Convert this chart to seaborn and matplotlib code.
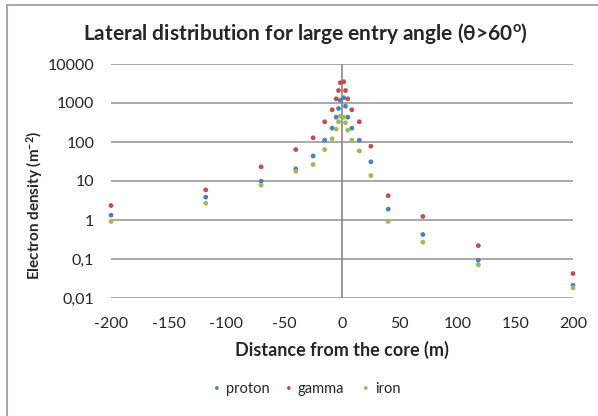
import seaborn as sns
import pandas as pd
import matplotlib.pyplot as plt
from matplotlib.patches import Rectangle

# distances from the core (m)
distance = [-200, -118, -70, -40, -25, -15, -8.5, -5, -3, -1.5,
            1.5, 3, 5, 8.5, 15, 25, 40, 70, 118, 200]

# electron densities (m^-2)
proton = [1.33, 3.85, 9.9, 20.5, 44, 111, 226, 432, 723, 1180,
          1360, 828, 432, 226, 111, 31, 1.9, 0.425, 0.093, 0.0213]
gamma = [2.35, 5.9, 23, 64, 128, 330, 670, 1280, 2090, 3300,
         3500, 2090, 1280, 670, 330, 78, 4.2, 1.23, 0.22, 0.0425]
iron = [0.92, 2.7, 7.8, 17.8, 26.5, 64, 121, 213, 330, 459,
        432, 311, 201, 111, 59, 13.8, 0.92, 0.27, 0.071, 0.0183]

y_ticks = [0.01, 0.1, 1, 10, 100, 1000, 10000]
y_ticklabels = ['0,01', '0,1', '1', '10', '100', '1000', '10000']

df = pd.concat([
    pd.DataFrame({'x': distance, 'y': proton, 'particle': 'proton'}),
    pd.DataFrame({'x': distance, 'y': gamma, 'particle': 'gamma'}),
    pd.DataFrame({'x': distance, 'y': iron, 'particle': 'iron'}),
])

sns.set_style('white')
plt.rcParams['font.family'] = ['Lato', 'DejaVu Sans']
plt.rcParams['axes.unicode_minus'] = False
plt.rcParams['mathtext.fontset'] = 'custom'
plt.rcParams['mathtext.rm'] = 'Lato:bold'
plt.rcParams['mathtext.default'] = 'regular'

fig = plt.figure(figsize=(5.98, 4.16), dpi=100)
ax = fig.add_axes([111 / 598, 1 - 298 / 416, 462 / 598, 234 / 416])

palette = {'proton': '#4F81BD', 'gamma': '#C0504D', 'iron': '#9BBB59'}
sns.scatterplot(data=df, x='x', y='y', hue='particle', palette=palette,
                s=12, linewidth=0, ax=ax, legend=False, zorder=3, clip_on=False)

ax.set_yscale('log')
ax.set_ylim(0.01, 10000)
ax.set_xlim(-200, 200)
ax.set_yticks(y_ticks)
ax.set_yticklabels(y_ticklabels)
ax.minorticks_off()
ax.set_xticks(range(-200, 201, 50))
ax.tick_params(axis='both', length=0, labelsize=11.5)
ax.tick_params(axis='x', pad=14)
ax.tick_params(axis='y', pad=12)
ax.grid(axis='y', color='#999999', linewidth=1.2)
ax.grid(axis='x', visible=False)
for s in ax.spines.values():
    s.set_visible(False)
ax.axvline(0, color='#888888', linewidth=1.2, zorder=2)

ax.set_xlabel('Distance from the core (m)', fontsize=13, fontweight='bold', labelpad=7)
ax.set_ylabel('Electron density (m$^{-2}$)', fontsize=11, fontweight='bold')
ax.yaxis.set_label_coords((45 - 111) / 462, (298 - 205) / 234)
fig.text(305 / 598, 1 - 33 / 416, 'Lateral distribution for large entry angle (θ>60$^{o}$)',
         ha='center', va='center', fontsize=15, fontweight='bold')

# legend at bottom
for xpos, name in [(217, 'proton'), (289, 'gamma'), (366, 'iron')]:
    fig.text(xpos / 598, 1 - 389 / 416, '•', color=palette[name], fontsize=7,
             ha='center', va='center')
    fig.text((xpos + 9) / 598, 1 - 389 / 416, name, fontsize=10.5,
             ha='left', va='center')

# chart border
fig.patches.append(Rectangle((7 / 598, -0.1), 1.2, 1 - 4.7 / 416 + 0.1,
                             transform=fig.transFigure, fill=False,
                             edgecolor='#aaaaaa', linewidth=1.5))

fig.savefig('out.png', dpi=100)
